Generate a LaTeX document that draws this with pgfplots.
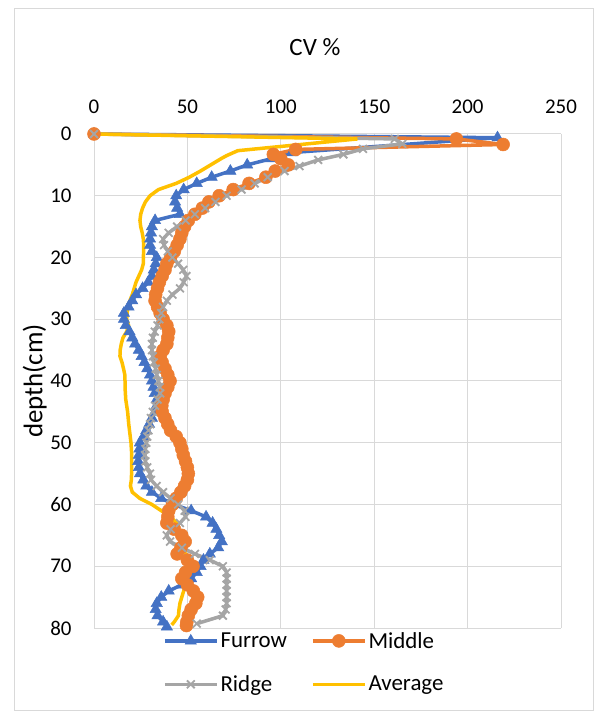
\documentclass[border=0pt]{standalone}
\usepackage{fontspec}
\setmainfont{Carlito}
\usepackage{pgfplots}
\usepackage{pgfplotstable}
\pgfplotsset{compat=1.18}
\definecolor{cfur}{HTML}{4472C4}
\definecolor{cmid}{HTML}{ED7D31}
\definecolor{crid}{HTML}{A5A5A5}
\definecolor{cavg}{HTML}{FFC000}
\definecolor{cgrid}{HTML}{D9D9D9}

\pgfplotstableread{
cv d
0 0
216 0.6
106 3
95 4
82 5
73 6
63 7
55 8
48 9
44 10
43.4 11
44.5 12
46 13
32.7 14
31 15
30.5 16
30 17
30 18
31 19
33.6 20
33 21
32 22
31 23
29 24
26 25
22.5 26
20.5 27
18.5 28
16 29
16 30
17 31
19 32
20.5 33
22 34
24 35
25.5 36
27 37
28.5 38
30 39
31 40
31.8 41
32.5 42
33.6 43
33.5 44
32.7 45
31 46
29.5 47
28 48
26.5 49
24.6 50
24.3 51
24 52
23.7 53
24 54
24.6 55
26.4 56
28 57
31 58
36 59
43 60
52 61
60 62
63.5 63
65.5 64
67 65
68.4 66
66.5 67
62 68
58.6 69
57 70
55 71
52 72
47 73
40 74
36 75
33.6 76
33 77
34 78
37 79
39 79.8
}\furrow

\pgfplotstableread{
cv d
0 0
194 0.8
219 1.7
108 2.5
96 3.3
100 4
104 5
97 6
92 7
83 8
74.5 9
67 10
61.5 11
58 12
54 13
50.5 14
48.5 15
47 16
46 17
44.5 18
43 19
41 20
39 21
38 22
36.5 23
35 24
34 25
33 26
32.7 27
34 28
35.4 29
37 30
39 31
40 32
39.5 33
39 34
37 35
35.4 36
36.5 37
38 38
39.5 39
40.7 40
39.5 41
38 42
37 43
36.3 44
36.5 45
38 46
39.5 47
41 48
44 49
46 50
47 51
47.8 52
49 53
50 54
50.5 55
50 56
48.5 57
46.5 58
44 59
42 60
40 61
39.5 62
39 63
43 64
47 65
48.8 66
46.5 67
44.5 68
50 69
53 70
49 71
47 72
50 73
53.2 74
55.5 75
54.5 76
52 77
50.5 78
49.7 79
49.5 79.6
}\middle

\pgfplotstableread{
cv d
0 0
161 0.8
165 1.6
144 2.4
133.5 3.3
120 4.2
110 5.2
102 6
93 7
86 8
79 9
71 10
65 11
59.5 12
54 13
49 14
44.5 15
40 16
37 17
37.5 18
39.5 19
42 20
45 21
47.8 22
49.5 23
48 24
46 25
42 26
39 27
37 28
36 29
35 30
34 31
32.5 32
31.5 33
31 34
31 35
31.5 36
32 37
33 38
33.6 39
34.5 40
35.2 41
35.4 42
34 43
32.7 44
31.5 45
30.5 46
30 47
29.2 48
28.5 49
28 50
27.5 51
27.3 52
27.5 53
28.5 54
30 55
30.5 56
33.5 57
37 58
41 59
45 60
48.5 61
49 62
46 63
41 64
38.9 65
40.7 66
47 67
54 68
62 69
69 70
71 71
71 72
71 73
71 74
71 75
71 76
70.5 77
69 78
55 79.3
}\ridge

\pgfplotstableread{
cv d
0 0
141 0.8
77 2.7
71 3.5
68 4
62.5 5
57 6
51 7
44 8
34.5 9
30 10
27.5 11
26 12
25 13
24.6 14
25 15
25.8 16
26.4 17
26.6 18
26.6 19
26.4 20
26.4 21
25.5 22
24 23
22.5 24
21.5 25
20.5 26
19.2 27
18.2 28
17.7 29
17.5 30
18.5 31
17.5 32
15.5 33
14.6 34
14 35
13.9 36
15 37
15.8 38
16.5 39
16.6 40
16.6 41
16.8 42
17 43
17.5 44
18 45
18.3 46
18.6 47
19 48
19.4 49
19.8 50
20 51
20.2 52
20.2 53
20.2 54
20.1 55
20 56
19.5 57
20.5 58
24.5 59
31 60
36 61
41 62
44.3 63
45 64
46 65
46.5 66
47 67
49 68
52 69
54 70
52.5 71
50.5 72
49 73
48 74
47 75
46 76
45.5 77
45.2 78
43 79
41.6 79.5
}\average

\begin{document}
\begin{tikzpicture}[x=1bp,y=1bp]
\useasboundingbox (0,0) rectangle (595,713);
\draw[cgrid, line width=1bp] (14,2) rectangle (593,704);
\begin{axis}[
  at={(94bp,85bp)}, anchor=south west,
  scale only axis, width=467bp, height=494bp,
  xmin=0, xmax=250, ymin=0, ymax=80,
  y dir=reverse,
  xtick={0,50,...,250}, ytick={0,10,...,80},
  xticklabel pos=right,
  major tick length=0pt,
  axis line style={draw=none},
  grid=major,
  major grid style={cgrid, line width=1bp},
  /pgf/number format/assume math mode=true,
  tick label style={font=\fontsize{21}{25}\selectfont},
  xticklabel style={yshift=17bp},
  yticklabel style={xshift=-19bp},
  xlabel={CV \%},
  ylabel={depth(cm)},
  xlabel style={font=\fontsize{25}{29}\selectfont, at={(ticklabel cs:0.473,37bp)}, anchor=near ticklabel},
  ylabel style={font=\fontsize{27}{31}\selectfont, at={(ticklabel cs:0.5,0bp)}, anchor=near ticklabel, inner sep=0pt},
  clip=false,
  legend columns=2,
  legend cell align=left,
  legend style={at={(axis description cs:0.141,0)}, anchor=north west, draw=none, fill=none,
    font=\fontsize{23}{27}\selectfont, /tikz/every even column/.append style={column sep=22bp},
    row sep=22bp},
  legend image code/.code={\draw[mark repeat=2,mark phase=2] plot coordinates {(0bp,0bp) (26bp,0bp) (52bp,0bp)};},
]
\addplot[cfur, line width=3.5bp, mark=triangle*, mark size=6.5bp, mark options={solid, fill=cfur, line width=0.5bp}] table[x=cv, y=d] {\furrow};
\addlegendentry{Furrow}
\addplot[cmid, line width=3.5bp, mark=*, mark size=6.5bp, mark options={solid, fill=cmid, line width=0.5bp}] table[x=cv, y=d] {\middle};
\addlegendentry{Middle}
\addplot[crid, line width=3.5bp, mark=x, mark size=5.5bp, mark options={solid, line width=1.8bp}] table[x=cv, y=d] {\ridge};
\addlegendentry{Ridge}
\addplot[cavg, line width=3.5bp, no marks] table[x=cv, y=d] {\average};
\addlegendentry{Average}
\end{axis}
\end{tikzpicture}
\end{document}
